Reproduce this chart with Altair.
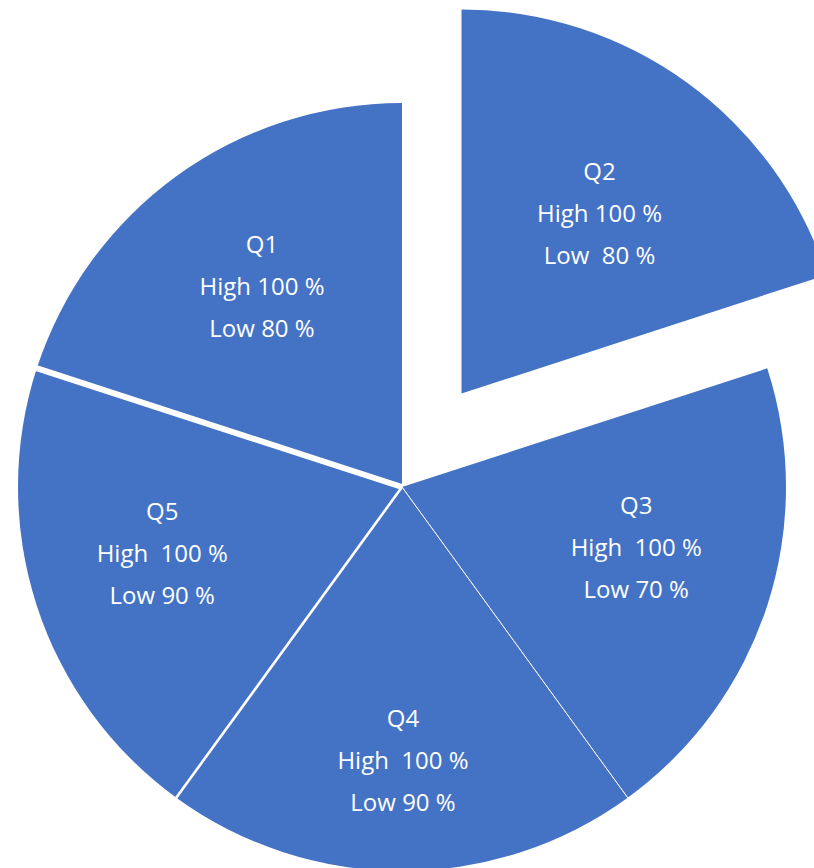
import math
import altair as alt
import pandas as pd

# ---- data ----
quarters = ["Q1", "Q2", "Q3", "Q4", "Q5"]
shares = [1, 1, 1, 1, 1]          # five equal slices
high = [100, 100, 100, 100, 100]
low = [80, 80, 70, 90, 90]
NB = "\u00a0"
high_gap = [" ", " ", NB + " ", NB + " ", NB + " "]
low_gap = [" ", NB + " ", " ", " ", " "]

labels = [
    f"{q}\nHigh{hg}{h} %\nLow{lg}{l} %"
    for q, h, l, hg, lg in zip(quarters, high, low, high_gap, low_gap)
]
df = pd.DataFrame({"q": quarters, "share": shares, "label": labels})
total = sum(shares)

BLUE = "#4472C4"
W, H = 814, 868
CX, CY = 402, 487          # pie centre
EX, EY = 461.5, 393.5      # centre of the exploded Q2 slice
R = 384

theta_scale = alt.Scale(domain=[0, total],
                        range=[-2 * math.pi / 5, 2 * math.pi - 2 * math.pi / 5])

base = (
    alt.Chart(df)
    .transform_window(end="sum(share)", frame=[None, 0], sort=[alt.SortField("q")])
    .transform_calculate(start="datum.end - datum.share",
                         mid="datum.end - datum.share / 2")
)

def slices(cond, cx, cy):
    return base.transform_filter(cond).mark_arc(
        color=BLUE, radius=R, strokeWidth=0
    ).encode(
        theta=alt.Theta("start:Q", scale=theta_scale, stack=None),
        theta2="end:Q",
        x=alt.value(cx),
        y=alt.value(cy),
    )

main = slices("datum.q != 'Q2'", CX, CY)
exploded = slices("datum.q == 'Q2'", EX, EY)

# white separator lines at the start boundary of a slice (zero-width arcs, stroked)
sep_width = {"Q1": 6, "Q4": 0.7, "Q5": 2.6}
seps = []
for q, w in sep_width.items():
    seps.append(
        base.transform_filter(f"datum.q == '{q}'").mark_arc(
            filled=False, stroke="white", radius=R + 2, strokeWidth=w,
            strokeCap="butt",
        ).encode(
            theta=alt.Theta("start:Q", scale=theta_scale, stack=None),
            theta2="start:Q",
            x=alt.value(CX),
            y=alt.value(CY),
        )
    )

# label placement per slice: (radius, dx, dy, centre)
label_pos = {
    "Q1": (245, 4, -43, (CX, CY)),
    "Q2": (228, 4, -36, (EX, EY)),
    "Q3": (240, 6, -54, (CX, CY)),
    "Q4": (275, 1, -42, (CX, CY)),
    "Q5": (250, -2, -51, (CX, CY)),
}

texts = []
for q in quarters:
    r, dx, dy, (cx, cy) = label_pos[q]
    texts.append(
        base.transform_filter(f"datum.q == '{q}'").mark_text(
            radius=r, dx=dx, dy=dy, color="white", font="Open Sans",
            fontSize=24, lineBreak="\n", lineHeight=42,
            align="center", baseline="middle",
        ).encode(
            theta=alt.Theta("mid:Q", scale=theta_scale, stack=None),
            text="label:N",
            x=alt.value(cx),
            y=alt.value(cy),
        )
    )

chart = alt.layer(main, exploded, *seps, *texts).properties(
    width=W, height=H, padding=0, autosize=alt.AutoSizeParams(type="none"),
).configure_view(stroke=None)

chart.save("out.html", embed_options={"renderer": "svg", "actions": False})
